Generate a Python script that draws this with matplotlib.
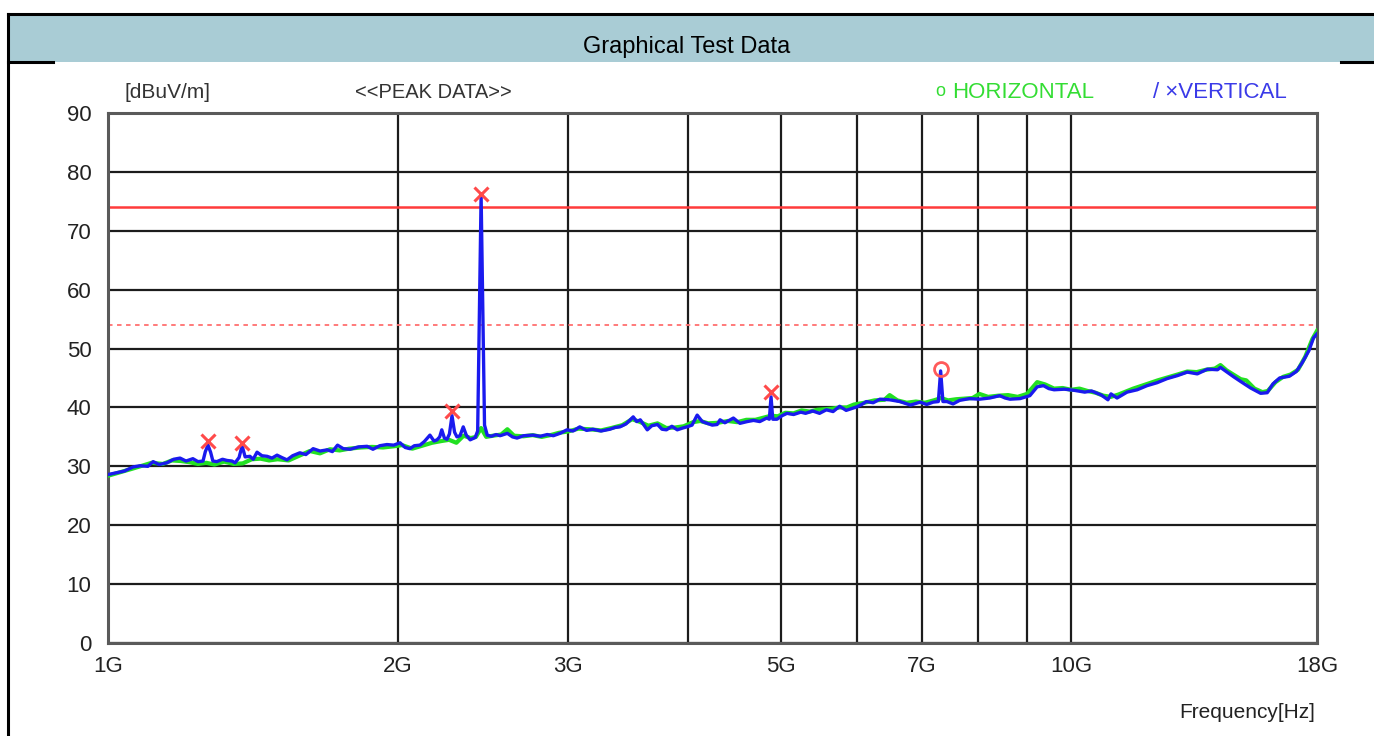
import numpy as np
import matplotlib.pyplot as plt
from matplotlib.patches import Rectangle
from matplotlib.lines import Line2D

W, H = 1374, 736

# vertical polarisation trace (GHz, dBuV/m)
freq_vert = [1.000, 1.020, 1.040, 1.062, 1.080, 1.100, 1.114, 1.130, 1.151, 1.170,
             1.188, 1.205, 1.225, 1.240, 1.255, 1.262, 1.270, 1.278, 1.285, 1.297,
             1.315, 1.329, 1.345, 1.355, 1.368, 1.378, 1.388, 1.404, 1.415, 1.428,
             1.445, 1.463, 1.480, 1.498, 1.515, 1.534, 1.555, 1.582, 1.605, 1.633,
             1.660, 1.689, 1.710, 1.731, 1.755, 1.784, 1.820, 1.858, 1.884, 1.915,
             1.948, 1.980, 2.010, 2.035, 2.058, 2.080, 2.108, 2.130, 2.159, 2.180,
             2.196, 2.210, 2.221, 2.235, 2.249, 2.262, 2.276, 2.290, 2.303, 2.320,
             2.338, 2.355, 2.377, 2.406, 2.420, 2.432, 2.440, 2.448, 2.460, 2.476,
             2.500, 2.530, 2.553, 2.598, 2.630, 2.659, 2.700, 2.764, 2.810, 2.858,
             2.900, 2.946, 2.996, 3.040, 3.089, 3.140, 3.187, 3.250, 3.320, 3.360,
             3.400, 3.450, 3.510, 3.540, 3.570, 3.630, 3.670, 3.720, 3.760, 3.800,
             3.850, 3.900, 3.950, 3.990, 4.040, 4.090, 4.140, 4.190, 4.240, 4.290,
             4.320, 4.370, 4.460, 4.530, 4.610, 4.680, 4.750, 4.830, 4.860, 4.880,
             4.900, 4.950, 5.010, 5.070, 5.150, 5.240, 5.300, 5.390, 5.480, 5.570,
             5.660, 5.750, 5.840, 5.990, 6.060, 6.130, 6.230, 6.330, 6.480, 6.640,
             6.810, 6.970, 7.080, 7.190, 7.280, 7.320, 7.360, 7.430, 7.540, 7.660,
             7.840, 8.030, 8.230, 8.430, 8.540, 8.640, 8.850, 9.060, 9.220, 9.360,
             9.480, 9.600, 9.840, 10.08, 10.33, 10.50, 10.75, 10.92, 11.00, 11.16,
             11.43, 11.71, 11.99, 12.28, 12.58, 12.89, 13.20, 13.52, 13.85, 14.19,
             14.29, 14.52, 14.75, 15.00, 15.36, 15.73, 15.98, 16.20, 16.46, 16.85,
             17.13, 17.36, 17.65, 17.85, 18.00]
level_vert = [28.6, 28.9, 29.2, 29.9, 30.1, 30.0, 30.8, 30.3, 30.6, 31.2,
              31.4, 30.9, 31.3, 30.8, 30.9, 32.5, 33.6, 32.4, 30.9, 30.8,
              31.2, 31.0, 30.9, 30.6, 31.5, 33.5, 31.6, 31.7, 31.2, 32.4,
              31.8, 31.7, 31.4, 31.9, 31.5, 31.1, 31.8, 32.3, 32.0, 33.0,
              32.6, 32.8, 32.5, 33.6, 33.0, 32.9, 33.3, 33.4, 32.9, 33.5,
              33.7, 33.6, 34.0, 33.2, 33.0, 33.5, 33.6, 34.2, 35.3, 34.3,
              34.5, 35.0, 36.2, 34.8, 34.6, 35.5, 38.6, 35.8, 35.0, 35.2,
              36.7, 35.3, 34.5, 34.9, 36.0, 60.0, 76.0, 60.0, 37.0, 35.3,
              35.1, 35.4, 35.2, 35.6, 35.0, 34.8, 35.2, 35.3, 35.1, 35.4,
              35.2, 35.6, 36.2, 36.0, 36.7, 36.1, 36.3, 36.0, 36.3, 36.6,
              36.7, 37.2, 38.4, 37.6, 37.9, 36.2, 36.9, 37.1, 36.3, 36.2,
              36.8, 36.2, 36.5, 36.7, 37.0, 38.7, 37.6, 37.3, 37.0, 37.1,
              37.9, 37.4, 38.2, 37.3, 37.6, 37.8, 37.6, 38.2, 38.0, 41.8,
              38.0, 38.0, 38.6, 39.0, 38.8, 39.2, 39.0, 39.4, 39.0, 39.6,
              39.3, 40.2, 39.5, 40.1, 40.5, 41.0, 40.8, 41.4, 41.3, 41.0,
              40.4, 40.9, 40.5, 40.9, 41.0, 46.2, 41.0, 41.0, 40.6, 41.2,
              41.5, 41.4, 41.6, 42.0, 41.6, 41.4, 41.5, 42.0, 43.5, 43.7,
              43.2, 43.0, 43.1, 42.9, 42.6, 42.8, 42.1, 41.3, 42.3, 41.6,
              42.6, 43.0, 43.7, 44.2, 44.9, 45.4, 46.0, 45.7, 46.5, 46.4,
              46.8, 46.0, 45.2, 44.4, 43.3, 42.4, 42.5, 44.0, 45.0, 45.3,
              46.1, 47.5, 49.6, 51.8, 52.5]

# horizontal polarisation trace (GHz, dBuV/m)
freq_horiz = [1.000, 1.030, 1.060, 1.090, 1.110, 1.140, 1.165, 1.190, 1.215, 1.240,
              1.265, 1.290, 1.320, 1.350, 1.380, 1.410, 1.440, 1.470, 1.500, 1.540,
              1.580, 1.620, 1.660, 1.700, 1.740, 1.780, 1.830, 1.880, 1.930, 1.980,
              2.020, 2.070, 2.120, 2.170, 2.220, 2.260, 2.300, 2.340, 2.380, 2.410,
              2.440, 2.470, 2.510, 2.560, 2.598, 2.640, 2.700, 2.760, 2.820, 2.880,
              2.940, 3.000, 3.080, 3.160, 3.250, 3.330, 3.420, 3.500, 3.560, 3.640,
              3.720, 3.800, 3.880, 3.960, 4.050, 4.120, 4.200, 4.300, 4.400, 4.500,
              4.600, 4.700, 4.800, 4.880, 4.960, 5.050, 5.150, 5.250, 5.350, 5.450,
              5.550, 5.650, 5.750, 5.850, 5.950, 6.100, 6.250, 6.400, 6.480, 6.600,
              6.750, 6.900, 7.050, 7.200, 7.330, 7.450, 7.600, 7.750, 7.900, 8.030,
              8.200, 8.400, 8.600, 8.800, 9.000, 9.220, 9.400, 9.600, 9.800, 10.00,
              10.20, 10.40, 10.60, 10.80, 11.00, 11.20, 11.40, 11.60, 11.80, 12.00,
              12.30, 12.60, 12.90, 13.20, 13.50, 13.80, 14.10, 14.29, 14.50, 14.80,
              15.00, 15.20, 15.50, 15.80, 16.00, 16.30, 16.60, 16.90, 17.20, 17.50,
              17.80, 18.00]
level_horiz = [28.4, 29.0, 29.6, 30.2, 30.6, 30.4, 31.0, 30.9, 30.7, 30.4,
               30.6, 30.3, 30.8, 30.4, 30.5, 31.2, 31.3, 31.0, 31.2, 31.0,
               31.8, 32.6, 32.2, 32.9, 32.7, 33.0, 33.2, 33.3, 33.2, 33.4,
               33.6, 33.0, 33.5, 34.0, 34.3, 34.5, 34.0, 35.2, 34.8, 35.0,
               36.5, 35.0, 35.2, 35.4, 36.3, 35.2, 35.1, 35.3, 35.0, 35.3,
               35.7, 35.9, 36.4, 36.3, 36.1, 36.5, 37.0, 38.0, 37.6, 36.9,
               37.3, 36.5, 36.6, 36.8, 37.5, 37.7, 37.3, 37.4, 37.7, 37.5,
               37.9, 37.9, 38.3, 38.6, 38.5, 39.1, 39.0, 39.5, 39.3, 39.6,
               39.7, 39.8, 40.0, 40.0, 40.5, 40.8, 41.2, 41.3, 42.1, 41.2,
               40.8, 41.0, 40.8, 41.2, 41.6, 41.2, 41.4, 41.5, 41.6, 42.3,
               41.8, 42.0, 42.1, 41.8, 42.3, 44.3, 43.9, 43.2, 43.3, 43.0,
               43.2, 42.8, 42.5, 42.0, 41.8, 42.2, 42.7, 43.2, 43.6, 44.0,
               44.6, 45.1, 45.6, 46.1, 46.0, 46.4, 46.6, 47.2, 46.3, 45.4,
               44.8, 44.6, 43.2, 42.6, 42.8, 44.3, 45.2, 45.6, 46.4, 48.6,
               51.6, 53.0]

# marked peaks
peak_vert_freq = [1.270, 1.378, 2.276, 2.440, 4.880]
peak_vert_level = [34.3, 34.0, 39.4, 76.3, 42.6]
peak_horiz_freq = [7.320]
peak_horiz_level = [46.5]

limit_peak = 74
limit_avg = 54

x_ticks = [1, 2, 3, 5, 7, 10, 18]
x_tick_labels = ['1G', '2G', '3G', '5G', '7G', '10G', '18G']
x_grid = [2, 3, 4, 5, 6, 7, 8, 9, 10]
y_ticks = [0, 10, 20, 30, 40, 50, 60, 70, 80, 90]

plt.rcParams['font.family'] = ['Liberation Sans', 'DejaVu Sans']

fig = plt.figure(figsize=(W / 100, H / 100), dpi=100)


def fx(px):
    return px / W


def fy(py):
    return 1 - py / H


# table header band and borders
fig.patches.append(Rectangle((fx(8), fy(62)), 1 - fx(8), fy(14) - fy(62),
                             transform=fig.transFigure, facecolor='#a9ccd5',
                             edgecolor='none', zorder=0))
for xs, ys in [((8, 1374), (14, 14)), ((8, 8), (14, 736)),
               ((8, 53), (62, 62)), ((1341, 1374), (62, 62))]:
    fig.add_artist(Line2D([fx(xs[0]), fx(xs[1])], [fy(ys[0]), fy(ys[1])],
                          transform=fig.transFigure, color='black', lw=2.2))
fig.text(fx(687), fy(47), 'Graphical Test Data', ha='center', va='center', fontsize=17)

ax = fig.add_axes([fx(108), fy(643), fx(1317) - fx(108), fy(113) - fy(643)])
ax.set_xscale('log')
ax.set_xlim(1, 18)
ax.set_ylim(0, 90)

for g in x_grid:
    ax.axvline(g, color='#1c1c1c', lw=1.6, zorder=1)
for yv in y_ticks:
    ax.axhline(yv, color='#1c1c1c', lw=1.6, zorder=1)

ax.axhline(limit_peak, color='#ff3b3b', lw=1.8, zorder=2)
ax.axhline(limit_avg, color='#ff7070', lw=1.3, ls=(0, (2.5, 2.5)), zorder=2)

ax.plot(freq_horiz, level_horiz, color='#22e022', lw=3.0, zorder=3)
ax.plot(freq_vert, level_vert, color='#1a1aee', lw=2.4, zorder=4)

ax.plot(peak_vert_freq, peak_vert_level, ls='none', marker='x', ms=10, mew=2.2,
        color='#ff4a4a', zorder=5)
ax.plot(peak_horiz_freq, peak_horiz_level, ls='none', marker='o', ms=10, mew=2,
        mfc='none', mec='#ff5a5a', zorder=5)

ax.set_xticks(x_ticks)
ax.set_xticklabels(x_tick_labels)
ax.xaxis.set_minor_locator(plt.NullLocator())
ax.set_yticks(y_ticks)
ax.tick_params(length=0, labelsize=16, colors='#222222')
ax.tick_params(axis='x', pad=9)
ax.tick_params(axis='y', pad=12)
for sp in ax.spines.values():
    sp.set_color('#5a5a5a')
    sp.set_linewidth(2.2)

fig.text(fx(125), fy(92), '[dBuV/m]', ha='left', va='center', fontsize=15, color='#333333')
fig.text(fx(355), fy(92), '<<PEAK DATA>>', ha='left', va='center', fontsize=14.5, color='#333333')
fig.text(fx(940), fy(91), 'o', ha='center', va='center', fontsize=13, color='#33dd33')
fig.text(fx(952), fy(92), 'HORIZONTAL', ha='left', va='center', fontsize=16, color='#33dd33')
fig.text(fx(1287), fy(92), '/ \u00d7VERTICAL', ha='right', va='center', fontsize=16, color='#3a3ae8')
fig.text(fx(1315), fy(712), 'Frequency[Hz]', ha='right', va='center', fontsize=15, color='#222222')

fig.savefig('out.png', dpi=100, facecolor='white')
